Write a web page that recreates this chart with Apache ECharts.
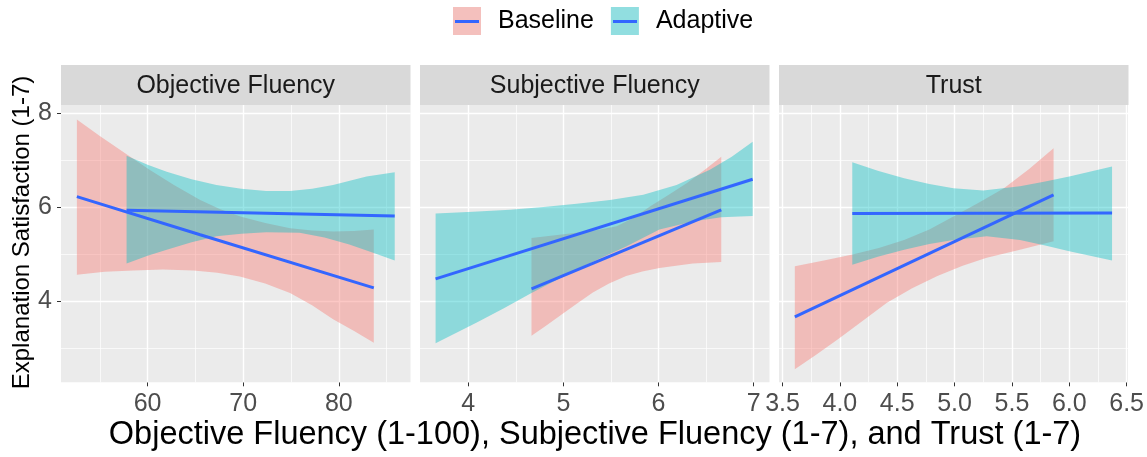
<!DOCTYPE html>
<html><head><meta charset="utf-8">
<script src="https://cdn.jsdelivr.net/npm/echarts@6/dist/echarts.min.js"></script>
<style>html,body{margin:0;padding:0;background:#fff}#c{width:1147px;height:457px}</style>
</head><body><div id="c"></div>
<script>
// ---------- data ----------
const facets = ['Objective Fluency', 'Subjective Fluency', 'Trust'];
const groups = ['Baseline', 'Adaptive'];
const xTicks = [[60, 70, 80], [4, 5, 6, 7], [3.5, 4.0, 4.5, 5.0, 5.5, 6.0, 6.5]];
const xMinor = [[55, 65, 75, 85], [4.5, 5.5, 6.5], [3.75, 4.25, 4.75, 5.25, 5.75, 6.25]];
const xRange = [[50.94, 87.5], [3.493, 7.167], [3.469, 6.512]];
const yTicks = [4, 6, 8];
const yMinor = [3, 5, 7];
const yRange = [2.28, 8.18];

// Objective Fluency
const objBaseFit = [[52.6, 6.23], [65.5, 5.42], [83.66, 4.29]];
const objBaseUpper = [[52.6, 7.87], [55.0, 7.52], [57.8, 7.13], [60.2, 6.80], [62.8, 6.47], [65.5, 6.16], [67.6, 5.96], [69.7, 5.81], [72.3, 5.67], [74.9, 5.56], [77.2, 5.51], [79.4, 5.49], [81.6, 5.50], [83.66, 5.53]];
const objBaseLower = [[52.6, 4.57], [55.5, 4.63], [58.5, 4.66], [61.6, 4.68], [64.8, 4.66], [67.3, 4.61], [69.65, 4.53], [72.3, 4.38], [74.9, 4.18], [77.2, 3.92], [79.4, 3.62], [81.6, 3.37], [83.66, 3.12]];
const objAdapFit = [[57.8, 5.94], [85.85, 5.82]];
const objAdapUpper = [[57.8, 7.10], [60.0, 6.91], [62.0, 6.76], [64.6, 6.60], [67.2, 6.48], [69.8, 6.40], [72.4, 6.35], [74.9, 6.35], [77.2, 6.40], [79.4, 6.48], [82.9, 6.66], [85.85, 6.75]];
const objAdapLower = [[57.8, 4.81], [60.0, 4.97], [62.0, 5.10], [64.6, 5.26], [67.2, 5.39], [69.8, 5.44], [72.4, 5.47], [75.9, 5.46], [78.5, 5.36], [81.1, 5.21], [83.66, 5.03], [85.85, 4.87]];

// Subjective Fluency
const subBaseFit = [[4.665, 4.27], [6.66, 5.95]];
const subBaseUpper = [[4.665, 5.35], [5.14, 5.46], [5.36, 5.52], [5.56, 5.60], [5.74, 5.78], [5.91, 6.02], [6.10, 6.26], [6.30, 6.52], [6.48, 6.79], [6.66, 7.08]];
const subBaseLower = [[4.665, 3.27], [4.81, 3.47], [4.96, 3.69], [5.14, 3.95], [5.31, 4.19], [5.48, 4.38], [5.66, 4.54], [5.83, 4.64], [6.01, 4.71], [6.36, 4.81], [6.66, 4.84]];
const subAdapFit = [[3.657, 4.48], [6.99, 6.60]];
const subAdapUpper = [[3.657, 5.87], [4.05, 5.91], [4.44, 5.95], [4.79, 6.01], [5.14, 6.08], [5.49, 6.16], [5.84, 6.27], [6.19, 6.48], [6.54, 6.80], [6.77, 7.08], [6.99, 7.40]];
const subAdapLower = [[3.657, 3.11], [4.09, 3.55], [4.38, 3.86], [4.665, 4.18], [5.14, 4.68], [5.40, 4.93], [5.66, 5.17], [6.01, 5.53], [6.36, 5.70], [6.66, 5.79], [6.99, 5.82]];

// Trust
const trBaseFit = [[3.607, 3.67], [5.863, 6.27]];
const trBaseUpper = [[3.607, 4.75], [3.86, 4.87], [4.11, 5.00], [4.34, 5.14], [4.56, 5.31], [4.78, 5.53], [4.99, 5.81], [5.21, 6.10], [5.43, 6.41], [5.65, 6.82], [5.863, 7.26]];
const trBaseLower = [[3.607, 2.56], [3.79, 2.86], [3.98, 3.19], [4.20, 3.59], [4.41, 3.97], [4.63, 4.28], [4.85, 4.54], [5.07, 4.76], [5.28, 4.93], [5.57, 5.10], [5.863, 5.28]];
const trAdapFit = [[4.108, 5.87], [6.373, 5.88]];
const trAdapUpper = [[4.108, 6.96], [4.33, 6.78], [4.56, 6.62], [4.78, 6.50], [4.99, 6.41], [5.25, 6.36], [5.57, 6.45], [5.79, 6.55], [6.0, 6.66], [6.373, 6.87]];
const trAdapLower = [[4.108, 4.78], [4.33, 4.95], [4.56, 5.10], [4.78, 5.22], [4.99, 5.31], [5.28, 5.39], [5.57, 5.31], [5.79, 5.19], [6.0, 5.07], [6.373, 4.87]];

const panels = [
  { Baseline: [objBaseFit, objBaseUpper, objBaseLower], Adaptive: [objAdapFit, objAdapUpper, objAdapLower] },
  { Baseline: [subBaseFit, subBaseUpper, subBaseLower], Adaptive: [subAdapFit, subAdapUpper, subAdapLower] },
  { Baseline: [trBaseFit, trBaseUpper, trBaseLower], Adaptive: [trAdapFit, trAdapUpper, trAdapLower] }
];

// ---------- styling ----------
const FONT = "'Liberation Sans', Arial, sans-serif";
const fillCol = { Baseline: 'rgba(248,118,109,0.4)', Adaptive: 'rgba(0,191,196,0.4)' };
const keyCol = { Baseline: '#F4C0BD', Adaptive: '#91DEE0' };
const lineCol = '#3366FF';
const gridLeft = [61, 420, 779];
const gridW = 349.5, gridTop = 105, gridH = 277.3;

const chart = echarts.init(document.getElementById('c'), null, { renderer: 'canvas' });

const grids = [], xAxes = [], yAxes = [], series = [], graphics = [];
for (let i = 0; i < 3; i++) {
  grids.push({ left: gridLeft[i], top: gridTop, width: gridW, height: gridH, show: true, backgroundColor: '#EBEBEB', borderWidth: 0, containLabel: false });
  xAxes.push({
    type: 'value', gridIndex: i, min: xRange[i][0], max: xRange[i][1],
    axisLine: { show: false },
    axisTick: { show: true, length: 4, lineStyle: { color: '#333333', width: 1 }, customValues: xTicks[i] },
    axisLabel: { show: true, customValues: xTicks[i], fontSize: 25, fontFamily: FONT, color: '#4D4D4D', margin: 9,
      formatter: i === 2 ? (v => Number(v).toFixed(1)) : (v => String(v)) },
    splitLine: { show: false }
  });
  yAxes.push({
    type: 'value', gridIndex: i, min: yRange[0], max: yRange[1],
    axisLine: { show: false },
    axisTick: { show: i === 0, length: 4, lineStyle: { color: '#333333', width: 1 }, customValues: yTicks },
    axisLabel: { show: i === 0, customValues: yTicks, fontSize: 25, fontFamily: FONT, color: '#4D4D4D', margin: 9 },
    splitLine: { show: false }
  });
  const ml = [];
  yMinor.forEach(v => ml.push({ yAxis: v, lineStyle: { width: 0.7 } }));
  xMinor[i].forEach(v => ml.push({ xAxis: v, lineStyle: { width: 0.7 } }));
  yTicks.forEach(v => ml.push({ yAxis: v, lineStyle: { width: 1.4 } }));
  xTicks[i].forEach(v => ml.push({ xAxis: v, lineStyle: { width: 1.4 } }));
  series.push({
    type: 'line', name: 'grid' + i, xAxisIndex: i, yAxisIndex: i, data: [], silent: true,
    markLine: { silent: true, symbol: ['none', 'none'], label: { show: false }, z: 1,
      lineStyle: { color: '#FFFFFF', type: 'solid' }, emphasis: { disabled: true }, data: ml }
  });
  groups.forEach(g => {
    const [fit, up, lo] = panels[i][g];
    series.push({
      type: 'custom', name: g, xAxisIndex: i, yAxisIndex: i, z: 2,
      itemStyle: { color: fillCol[g] },
      data: [up[0]],
      renderItem: (params, api) => {
        const pts = up.map(p => api.coord(p)).concat(lo.slice().reverse().map(p => api.coord(p)));
        return { type: 'polygon', shape: { points: pts }, style: { fill: fillCol[g] } };
      }
    });
    series.push({
      type: 'line', name: g + ' fit', xAxisIndex: i, yAxisIndex: i, z: 2,
      data: fit, symbol: 'none', lineStyle: { color: lineCol, width: 3 }, itemStyle: { color: lineCol }
    });
  });
  // strip
  graphics.push({ type: 'rect', shape: { x: gridLeft[i], y: 65, width: gridW, height: 40 }, style: { fill: '#D9D9D9' }, silent: true });
  graphics.push({ type: 'text', x: gridLeft[i] + gridW / 2, y: 86, style: { text: facets[i], fontSize: 25, fontFamily: FONT, fill: '#1A1A1A', align: 'center', verticalAlign: 'middle' }, silent: true });
}
// axis titles
graphics.push({ type: 'text', x: 595, y: 435, style: { text: 'Objective Fluency (1-100), Subjective Fluency (1-7), and Trust (1-7)', fontSize: 32.5, fontFamily: FONT, fill: '#000000', align: 'center', verticalAlign: 'middle' }, silent: true });
graphics.push({ type: 'text', x: 22, y: 232.5, rotation: Math.PI / 2, style: { text: 'Explanation Satisfaction (1-7)', fontSize: 24, fontFamily: FONT, fill: '#000000', align: 'center', verticalAlign: 'middle' }, silent: true });
// legend key lines
graphics.push({ type: 'line', shape: { x1: 455, y1: 21.5, x2: 479, y2: 21.5 }, style: { stroke: lineCol, lineWidth: 3 }, silent: true, z: 100 });
graphics.push({ type: 'line', shape: { x1: 613, y1: 21.5, x2: 637, y2: 21.5 }, style: { stroke: lineCol, lineWidth: 3 }, silent: true, z: 100 });

chart.setOption({
  animation: false,
  backgroundColor: '#FFFFFF',
  grid: grids, xAxis: xAxes, yAxis: yAxes, series: series,
  legend: {
    data: groups.map(g => ({ name: g, itemStyle: { color: keyCol[g] } })),
    icon: 'rect', itemWidth: 28, itemHeight: 28, itemGap: 17, left: 453, top: 7, padding: 0,
    selectedMode: false,
    textStyle: { fontSize: 25, fontFamily: FONT, color: '#000000', padding: [0, 0, 0, 12] }
  },
  graphic: graphics
});
</script></body></html>
